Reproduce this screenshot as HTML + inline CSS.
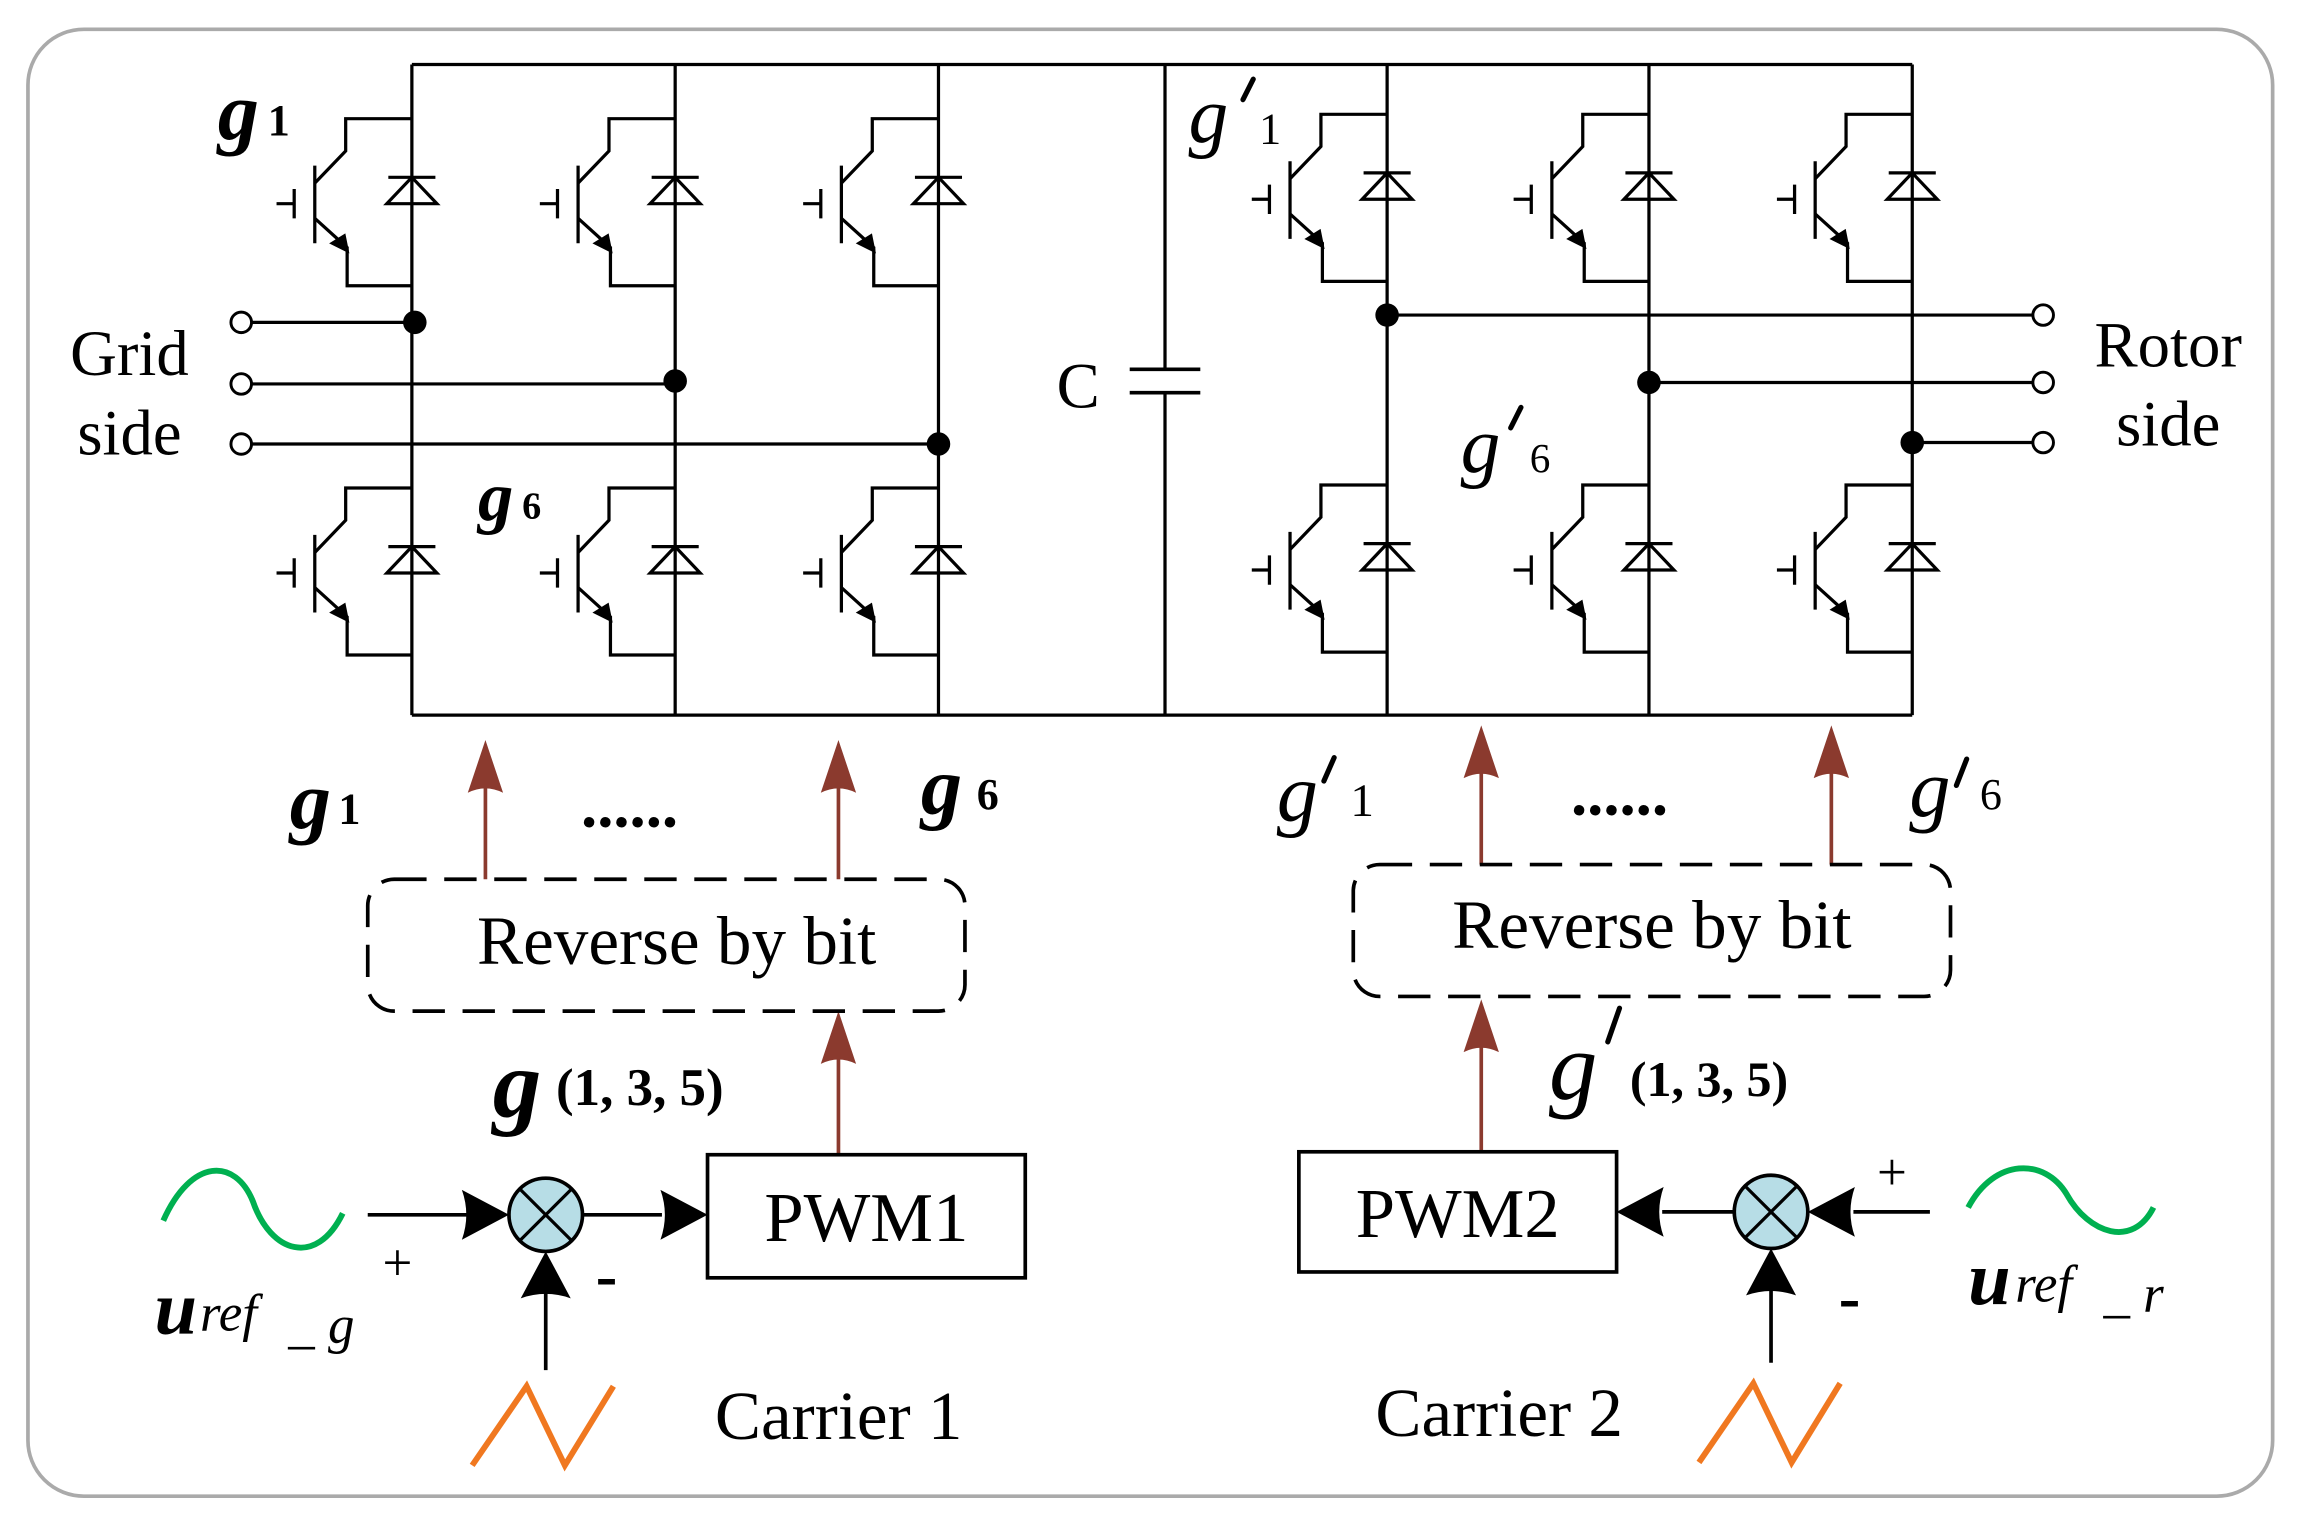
<!DOCTYPE html>
<html><head><meta charset="utf-8"><style>
html,body{margin:0;padding:0;background:#fff;}
svg{display:block;}
text{font-family:"Liberation Serif",serif;fill:#000;}
</style></head><body>
<svg width="2305" height="1524" viewBox="0 0 1567 1040" preserveAspectRatio="none" xmlns="http://www.w3.org/2000/svg">
<defs>
<g id="igbt" fill="none" stroke="#000" stroke-width="2.2">
  <path d="M0,0 H-45 V22 L-66,44"/>
  <path d="M-66,32 V85"/>
  <path d="M-80,48 V68 M-92,58 H-80"/>
  <path d="M-66,68 L-44,88 V114 H0"/>
  <path d="M-44,90 L-54,85 L-46,80 Z" fill="#000"/>
  <path d="M-16,40 H16"/>
  <path d="M0,40 L-17,58 H17 Z"/>
</g>
<g id="rarr"><path d="M0,0 L-12,36 Q0,30 12,36 Z" fill="#8B3A2E"/></g>
<g id="barr"><path d="M0,0 L-32,-17 Q-26,0 -32,17 Z" fill="#000"/></g>
</defs>
<rect x="19" y="20" width="1526" height="1001" rx="38" fill="#fff" stroke="#aaa" stroke-width="2.5"/>

<g stroke="#000" stroke-width="2.2" fill="none">
  <path d="M280,44 H1300 M280,488 H1300"/>
  <path d="M280,44 V488 M459,44 V488 M638,44 V488 M943,44 V488 M1121,44 V488 M1300,44 V488"/>
  <path d="M792,44 V252 M792,268 V488"/>
  <path d="M768,252 H816 M768,268 H816" stroke-width="2.5"/>
  <path d="M170,220 H282 M170,262 H459 M170,303 H638"/>
  <path d="M943,215 H1382 M1121,261 H1382 M1300,302 H1382"/>
</g>
<g fill="#fff" stroke="#000" stroke-width="2">
  <circle cx="164" cy="220" r="7"/><circle cx="164" cy="262" r="7"/><circle cx="164" cy="303" r="7"/>
  <circle cx="1389" cy="215" r="7"/><circle cx="1389" cy="261" r="7"/><circle cx="1389" cy="302" r="7"/>
</g>
<g fill="#000">
  <circle cx="282" cy="220" r="8"/><circle cx="459" cy="260" r="8"/><circle cx="638" cy="303" r="8"/>
  <circle cx="943" cy="215" r="8"/><circle cx="1121" cy="261" r="8"/><circle cx="1300" cy="302" r="8"/>
</g>

<use href="#igbt" x="280" y="81"/><use href="#igbt" x="459" y="81"/><use href="#igbt" x="638" y="81"/>
<use href="#igbt" x="280" y="333"/><use href="#igbt" x="459" y="333"/><use href="#igbt" x="638" y="333"/>
<use href="#igbt" x="943" y="78"/><use href="#igbt" x="1121" y="78"/><use href="#igbt" x="1300" y="78"/>
<use href="#igbt" x="943" y="331"/><use href="#igbt" x="1121" y="331"/><use href="#igbt" x="1300" y="331"/>

<text x="733" y="278" font-size="44" text-anchor="middle">C</text>
<text x="88" y="256" font-size="44" text-anchor="middle">Grid</text>
<text x="88" y="310" font-size="44" text-anchor="middle">side</text>
<text x="1474" y="250" font-size="44" text-anchor="middle">Rotor</text>
<text x="1474" y="304" font-size="44" text-anchor="middle">side</text>

<g font-style="italic" font-weight="bold">
<text x="148" y="95" font-size="56">g</text><text x="182" y="92" font-size="30" font-style="normal">1</text>
<text x="325" y="355" font-size="48">g</text><text x="355" y="354" font-size="26" font-style="normal">6</text>
<text x="197" y="565" font-size="56">g</text><text x="230" y="562" font-size="30" font-style="normal">1</text>
<text x="626" y="555" font-size="56">g</text><text x="664" y="552" font-size="30" font-style="normal">6</text>
</g>
<g font-style="italic">
<text x="808" y="97" font-size="54">g</text><text x="856" y="98" font-size="30" font-style="normal">1</text>
<text x="993" y="322" font-size="54">g</text><text x="1040" y="322" font-size="28" font-style="normal">6</text>
<text x="868" y="560" font-size="56">g</text><text x="918" y="557" font-size="32" font-style="normal">1</text>
<text x="1298" y="557" font-size="56">g</text><text x="1346" y="552" font-size="30" font-style="normal">6</text>
<text x="335" y="762" font-size="66" font-weight="bold">g</text>
<text x="378" y="754" font-size="36" font-style="normal" font-weight="bold">(1, 3, 5)</text>
<text x="1053" y="750" font-size="66">g</text>
<text x="1108" y="748" font-size="34" font-style="normal" font-weight="bold">(1, 3, 5)</text>
</g>
<g stroke="#000" stroke-width="3.5" stroke-linecap="round">
  <path d="M852,54 L845,68"/>
  <path d="M1034,278 L1027,292"/>
  <path d="M907,517 L900,533"/>
  <path d="M1337,518 L1330,536"/>
  <path d="M1101,688 L1093,711"/>
</g>
<text x="395" y="564" font-size="44" font-weight="bold">......</text>
<text x="1068" y="556" font-size="44" font-weight="bold">......</text>

<g stroke="#8B3A2E" stroke-width="2.5">
  <path d="M330,600 V530 M570,600 V530 M1007,590 V520 M1245,590 V520 M570,787 V720 M1007,785 V712"/>
</g>
<use href="#rarr" x="330" y="505"/><use href="#rarr" x="570" y="505"/>
<use href="#rarr" x="1007" y="495"/><use href="#rarr" x="1245" y="495"/>
<use href="#rarr" x="570" y="690"/><use href="#rarr" x="1007" y="682"/>

<rect x="250" y="600" width="406" height="90" rx="18" fill="none" stroke="#000" stroke-width="2.5" stroke-dasharray="22,12"/>
<rect x="920" y="590" width="406" height="90" rx="18" fill="none" stroke="#000" stroke-width="2.5" stroke-dasharray="22,12"/>
<text x="460" y="658" font-size="47" text-anchor="middle">Reverse by bit</text>
<text x="1123" y="647" font-size="47" text-anchor="middle">Reverse by bit</text>

<rect x="481" y="788" width="216" height="84" fill="#fff" stroke="#000" stroke-width="2.5"/>
<rect x="883" y="786" width="216" height="82" fill="#fff" stroke="#000" stroke-width="2.5"/>
<text x="589" y="847" font-size="48" text-anchor="middle">PWM1</text>
<text x="991" y="844" font-size="48" text-anchor="middle">PWM2</text>

<g stroke="#000" stroke-width="2.5" fill="none">
  <path d="M250,829 H320 M396,829 H450 M371,935 V880"/>
  <path d="M1178,827 H1130 M1312,827 H1260 M1204,930 V880"/>
</g>
<use href="#barr" x="346" y="829"/><use href="#barr" x="481" y="829"/>
<use href="#barr" x="371" y="854" transform="rotate(-90 371 854)"/>
<use href="#barr" x="1099" y="827" transform="rotate(180 1099 827)"/>
<use href="#barr" x="1229" y="827" transform="rotate(180 1229 827)"/>
<use href="#barr" x="1204" y="852" transform="rotate(-90 1204 852)"/>

<circle cx="371" cy="829" r="25" fill="#B7DDE6" stroke="#000" stroke-width="2.5"/>
<path d="M354,812 L388,846 M388,812 L354,846" stroke="#000" stroke-width="2.2"/>
<circle cx="1204" cy="827" r="25" fill="#B7DDE6" stroke="#000" stroke-width="2.5"/>
<path d="M1187,810 L1221,844 M1221,810 L1187,844" stroke="#000" stroke-width="2.2"/>

<path d="M111,833 C130,790 160,790 172,820 C184,855 215,865 233,828" fill="none" stroke="#00B050" stroke-width="4"/>
<path d="M1338,824 C1356,790 1390,790 1405,815 C1420,842 1450,852 1464,824" fill="none" stroke="#00B050" stroke-width="4"/>
<path d="M321,1000 L358,946 L384,1000 L417,946" fill="none" stroke="#F07820" stroke-width="4"/>
<path d="M1155,998 L1192,944 L1218,998 L1251,944" fill="none" stroke="#F07820" stroke-width="4"/>

<text x="260" y="874" font-size="36">+</text>
<text x="405" y="885" font-size="44" font-weight="bold">-</text>
<text x="1276" y="812" font-size="36">+</text>
<text x="1250" y="900" font-size="44" font-weight="bold">-</text>

<g font-style="italic">
<text x="105" y="910" font-size="52" font-weight="bold">u</text>
<text x="136" y="908" font-size="36">ref</text><text x="196" y="916" font-size="36">_ g</text>
<text x="1338" y="890" font-size="52" font-weight="bold">u</text>
<text x="1370" y="888" font-size="36">ref</text><text x="1430" y="895" font-size="36">_ r</text>
</g>
<text x="486" y="982" font-size="47">Carrier 1</text>
<text x="935" y="980" font-size="47">Carrier 2</text>
</svg>
</body></html>
